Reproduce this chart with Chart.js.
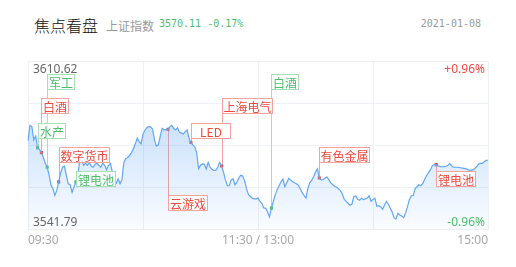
<!DOCTYPE html>
<html>
<head>
<meta charset="utf-8">
<script src="https://cdn.jsdelivr.net/npm/chart.js@4"></script>
<style>
  body { margin: 0; background: #fff; }
  #wrap { position: relative; width: 516px; height: 267px; overflow: hidden; }
  #chart { position: absolute; left: 0; top: 0; }
  .hd { position: absolute; white-space: nowrap; }
  #title { left: 34px; top: 13px; font: 300 16px "Noto Sans CJK SC"; color: #111; }
  #index { left: 106px; top: 17px; font: 12px "Noto Sans CJK SC"; color: #9a9a9a; }
  #quote { left: 159px; top: 18px; font: 10px "DejaVu Sans Mono"; color: #4fbf6d; }
  #date { right: 35px; top: 18px; font: 10px "DejaVu Sans Mono"; color: #9a9a9a; }
</style>
</head>
<body>
<div id="wrap">
  <span class="hd" id="title">焦点看盘</span>
  <span class="hd" id="index">上证指数</span>
  <span class="hd" id="quote">3570.11 -0.17%</span>
  <span class="hd" id="date">2021-01-08</span>
  <canvas id="chart" width="516" height="267"></canvas>
</div>
<script>
// axis range and labels
const yMax = 3610.62;
const yMin = 3541.79;
const priceLabels = ['3610.62', '3541.79'];
const pctLabels = ['+0.96%', '-0.96%'];
const tickMinutes = [0, 120, 240];
const tickLabels = ['09:30', '11:30 / 13:00', '15:00'];

// one price per minute, 09:30 .. 15:00 (241 points)
const prices = [
  3578.00, 3584.36, 3583.96, 3578.40, 3579.98, 3575.21, 3574.41, 3573.22, 3571.23, 3568.84,
  3567.25, 3564.07, 3560.09, 3558.50, 3555.72, 3557.70, 3561.29, 3564.87, 3567.25, 3567.65,
  3564.07, 3560.50, 3560.09, 3557.00, 3559.30, 3561.29, 3564.07, 3570.00, 3570.44, 3568.05,
  3568.84, 3568.05, 3569.24, 3567.65, 3567.25, 3568.45, 3568.84, 3568.05, 3567.25, 3568.84,
  3568.05, 3566.20, 3568.05, 3568.84, 3565.26, 3560.89, 3560.61, 3562.48, 3560.50, 3562.08,
  3569.24, 3570.83, 3571.23, 3572.03, 3573.22, 3574.81, 3576.80, 3579.19, 3577.60, 3576.80,
  3580.78, 3582.37, 3583.37, 3583.84, 3583.76, 3582.77, 3578.40, 3575.89, 3576.40, 3579.98,
  3583.17, 3582.49, 3582.57, 3582.77, 3583.84, 3584.36, 3583.17, 3582.49, 3583.37, 3581.58,
  3581.18, 3580.78, 3581.77, 3582.49, 3579.19, 3577.32, 3576.40, 3575.61, 3573.22, 3566.58,
  3568.05, 3568.57, 3568.45, 3566.58, 3569.24, 3567.25, 3566.46, 3565.94, 3566.06, 3567.25,
  3569.24, 3567.77, 3565.26, 3562.08, 3559.69, 3559.69, 3562.08, 3562.48, 3560.09, 3561.29,
  3562.88, 3563.95, 3563.67, 3561.69, 3558.50, 3556.11, 3555.32, 3554.64, 3554.32, 3554.32,
  3554.64, 3553.33, 3552.53, 3550.66, 3550.54, 3548.95, 3546.96, 3550.54, 3553.33, 3555.99,
  3558.10, 3559.69, 3561.29, 3562.36, 3559.30, 3560.89, 3562.68, 3562.08, 3561.29, 3560.89,
  3560.50, 3559.97, 3558.50, 3556.91, 3555.72, 3554.64, 3558.50, 3560.89, 3561.89, 3563.27,
  3565.26, 3566.58, 3562.88, 3562.08, 3562.20, 3562.88, 3563.27, 3562.08, 3560.89, 3560.09,
  3559.49, 3559.10, 3558.50, 3557.70, 3556.31, 3554.13, 3553.33, 3552.53, 3551.74, 3552.14,
  3555.32, 3555.52, 3554.13, 3553.73, 3554.64, 3554.01, 3554.32, 3554.64, 3555.60, 3553.33,
  3554.13, 3554.64, 3551.34, 3551.54, 3551.14, 3550.03, 3551.74, 3553.33, 3552.14, 3550.54,
  3548.95, 3546.56, 3546.16, 3548.43, 3547.76, 3547.36, 3546.68, 3548.55, 3551.14, 3554.13,
  3555.60, 3555.60, 3558.50, 3559.30, 3560.09, 3559.69, 3560.61, 3562.48, 3563.87, 3565.06,
  3566.26, 3567.93, 3568.33, 3568.33, 3567.85, 3567.53, 3567.45, 3567.53, 3567.65, 3567.93,
  3568.84, 3567.85, 3567.25, 3567.25, 3567.25, 3567.13, 3566.98, 3566.86, 3566.66, 3566.46,
  3566.06, 3565.94, 3566.18, 3566.66, 3567.45, 3568.45, 3568.84, 3568.84, 3569.52, 3570.04,
  3570.11
];

// sector events marked on the line
const eventMinutes = [5, 7, 10, 16, 25, 73, 85, 101, 127, 152, 213];
const eventNames = ['水产', '白酒', '军工', '数字货币', '锂电池', '云游戏', 'LED', '上海电气', '白酒', '有色金属', '锂电池'];
const eventKinds = ['green', 'red', 'green', 'red', 'green', 'red', 'red', 'red', 'green', 'red', 'red'];

// which row each event box sits on (layout only)
const boxRows = [2, 1, 0, 3, 4, 5, 2, 1, 0, 3, 4];

function kindColor(kind) {
  if (kind === 'red') {
    return '#ee4a3d';
  }
  return '#4cbf6b';
}

function kindLight(kind) {
  if (kind === 'red') {
    return '#f5a39c';
  }
  return '#a3e2b3';
}

const minutes = prices.map((p, i) => i);
const markerData = prices.map((p, i) => (eventMinutes.includes(i) ? p : null));

function boxRect(chart, i) {
  const area = chart.chartArea;
  const w = eventNames[i].length * 11.6 + 4;
  const top = area.top + 13.3 + boxRows[i] * 24.1;
  const pt = chart.getDatasetMeta(1).data[eventMinutes[i]];
  return { x: Math.round(pt.x) + 0.5, y: Math.round(top) + 0.5, w: Math.round(w), h: 15, px: pt.x, py: pt.y };
}

const eventPlugin = {
  id: 'events',
  beforeDatasetsDraw(chart) {
    const ctx = chart.ctx;
    ctx.save();
    ctx.lineWidth = 1;
    eventMinutes.forEach((m, i) => {
      const r = boxRect(chart, i);
      ctx.strokeStyle = kindLight(eventKinds[i]);
      ctx.beginPath();
      if (r.y + r.h <= r.py) {
        ctx.moveTo(r.x, r.y + r.h);
      } else {
        ctx.moveTo(r.x, r.y);
      }
      ctx.lineTo(r.x, r.py);
      ctx.stroke();
    });
    ctx.restore();
  },
  afterDatasetsDraw(chart) {
    const ctx = chart.ctx;
    const area = chart.chartArea;
    ctx.save();
    eventMinutes.forEach((m, i) => {
      const r = boxRect(chart, i);
      ctx.fillStyle = 'rgba(255,255,255,0.85)';
      ctx.fillRect(r.x, r.y, r.w, r.h);
      ctx.strokeStyle = kindLight(eventKinds[i]);
      ctx.strokeRect(r.x, r.y, r.w, r.h);
      ctx.fillStyle = kindColor(eventKinds[i]);
      ctx.font = '12px "Noto Sans CJK SC"';
      ctx.textAlign = 'center';
      ctx.textBaseline = 'middle';
      ctx.fillText(eventNames[i], r.x + r.w / 2, r.y + r.h / 2 + 1);
    });

    // corner labels of the price axis
    ctx.font = '12px "Noto Sans", sans-serif';
    ctx.textBaseline = 'top';
    ctx.textAlign = 'left';
    ctx.fillStyle = '#666';
    ctx.fillText(priceLabels[0], area.left + 5, area.top + 3);
    ctx.textAlign = 'right';
    ctx.fillStyle = kindColor('red');
    ctx.fillText(pctLabels[0], area.right - 3, area.top + 3);
    ctx.textBaseline = 'bottom';
    ctx.textAlign = 'left';
    ctx.fillStyle = '#666';
    ctx.fillText(priceLabels[1], area.left + 5, area.bottom - 1);
    ctx.textAlign = 'right';
    ctx.fillStyle = kindColor('green');
    ctx.fillText(pctLabels[1], area.right - 3, area.bottom - 1);
    ctx.restore();
  }
};

const canvas = document.querySelector('#chart');

new Chart(canvas.getContext('2d'), {
  type: 'line',
  data: {
    labels: minutes,
    datasets: [{
      data: prices,
      borderColor: '#62a6f7',
      borderWidth: 1.2,
      pointRadius: 0,
      tension: 0,
      fill: 'start',
      backgroundColor: (c) => {
        const area = c.chart.chartArea;
        if (!area) {
          return 'rgba(98,166,247,0.3)';
        }
        const g = c.chart.ctx.createLinearGradient(0, area.top, 0, area.bottom);
        g.addColorStop(0, 'rgba(98,166,247,0.5)');
        g.addColorStop(1, 'rgba(98,166,247,0.03)');
        return g;
      }
    }, {
      data: markerData,
      showLine: false,
      pointStyle: 'rect',
      pointRadius: 2.2,
      pointBorderWidth: 0,
      pointBackgroundColor: (c) => kindColor(eventKinds[eventMinutes.indexOf(c.dataIndex)])
    }]
  },
  plugins: [eventPlugin],
  options: {
    responsive: false,
    animation: false,
    layout: { padding: { left: 28, right: 28, top: 61, bottom: 15 } },
    plugins: { legend: { display: false }, tooltip: { enabled: false } },
    scales: {
      x: {
        border: { display: false },
        grid: {
          drawTicks: false,
          color: (c) => (c.index % 60 === 0 ? '#edf0f5' : 'rgba(0,0,0,0)')
        },
        ticks: {
          autoSkip: false,
          maxRotation: 0,
          align: 'inner',
          padding: 4,
          color: '#a8a8a8',
          font: { family: 'Noto Sans', size: 12 },
          callback: (v) => {
            const k = tickMinutes.indexOf(v);
            return k >= 0 ? tickLabels[k] : '';
          }
        }
      },
      y: {
        min: yMin,
        max: yMax,
        border: { display: false },
        grid: { drawTicks: false, color: '#edf0f5' },
        ticks: { display: false },
        afterBuildTicks: (scale) => {
          scale.ticks = [0, 1, 2, 3, 4].map(k => ({ value: yMin + k * (yMax - yMin) / 4 }));
        }
      }
    }
  }
});
</script>
</body>
</html>
